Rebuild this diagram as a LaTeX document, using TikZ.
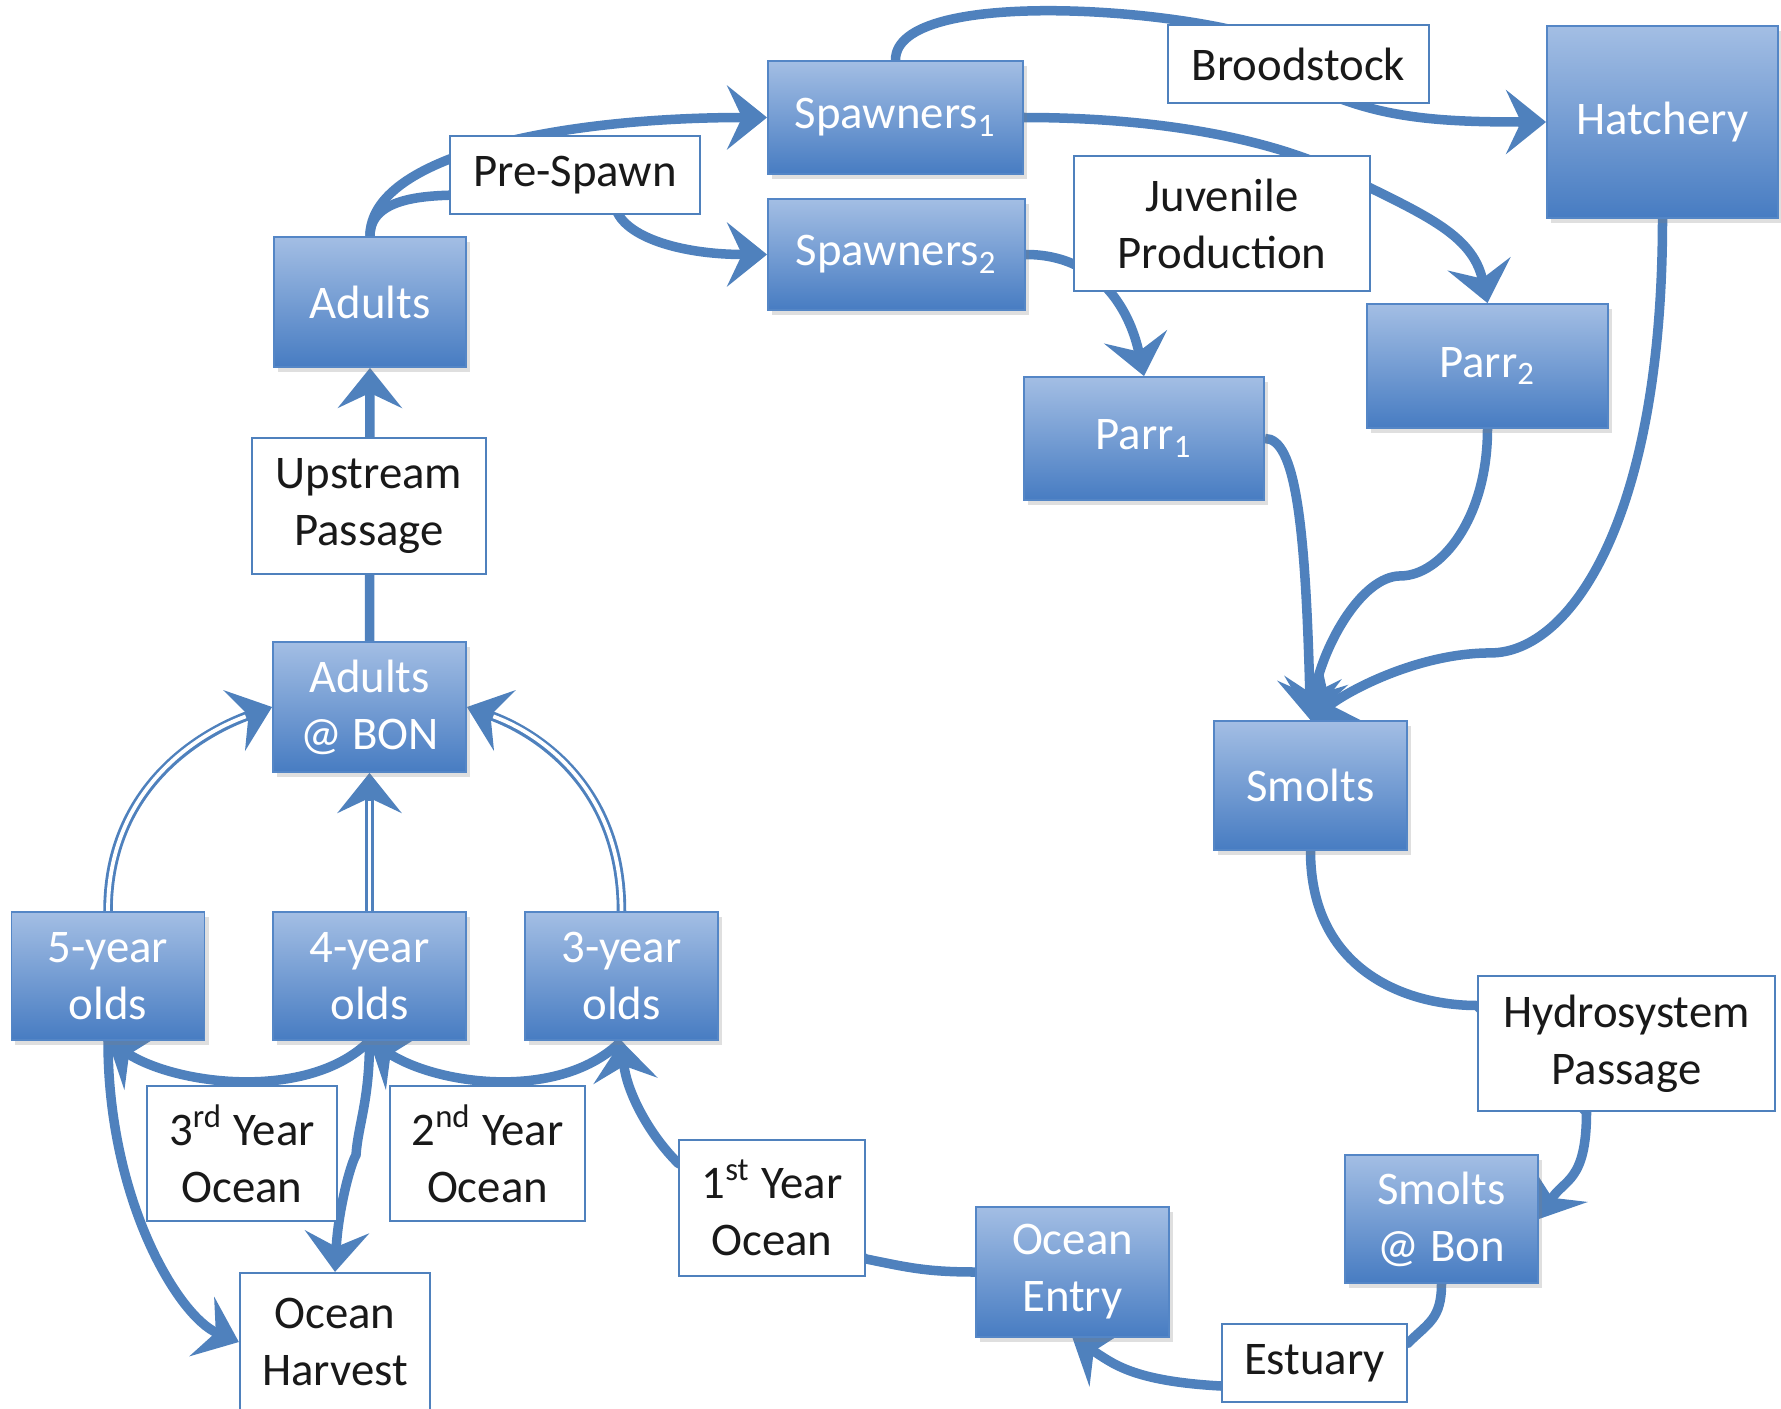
\documentclass[tikz,border=0pt]{standalone}
\usepackage{fontspec}
\setmainfont{Carlito}
\usetikzlibrary{arrows.meta, calc, shadows, backgrounds}

\definecolor{flowblue}{RGB}{79,129,189}
\definecolor{boxtop}{RGB}{163,190,228}
\definecolor{boxbot}{RGB}{71,124,194}
\definecolor{boxline}{RGB}{84,134,198}

\tikzset{
  stock/.style={draw=boxline, line width=0.5pt, top color=boxtop, bottom color=boxbot,
    text=white, align=center, inner sep=0pt,
    drop shadow={shadow xshift=0.04cm, shadow yshift=-0.05cm, opacity=0.25}},
  stage/.style={draw=flowblue, line width=0.6pt, fill=white, text=black!90,
    align=center, inner sep=0pt},
  flow/.style={flowblue, line width=0.095cm,
    -{Stealth[length=0.40cm, width=0.64cm, inset=0.15cm]}},
  twin/.style={flowblue, line width=0.095cm,
    -{Stealth[length=0.40cm, width=0.64cm, inset=0.15cm]},
    postaction={draw=white, line width=0.038cm, shorten >=0.28cm, -}},
}

\begin{document}
\begin{tikzpicture}[x=0.01cm, y=-0.01cm, font=\fontsize{13.3}{16.2}\selectfont]
    \useasboundingbox (0,0) rectangle (1781,1409);

    \node[stock, minimum width=2.55cm, minimum height=1.13cm] (spawn1) at (895.5,117.5) {Spawners\textsubscript{1}};
    \node[stock, minimum width=2.57cm, minimum height=1.11cm] (spawn2) at (896.5,254.5) {Spawners\textsubscript{2}};
    \node[stock, minimum width=1.92cm, minimum height=1.30cm] (adults) at (370,302) {Adults};
    \node[stock, minimum width=2.31cm, minimum height=1.92cm] (hatch) at (1662.5,122) {Hatchery};
    \node[stock, minimum width=2.40cm, minimum height=1.23cm] (parr1) at (1144,438.5) {Parr\textsubscript{1}};
    \node[stock, minimum width=2.41cm, minimum height=1.24cm] (parr2) at (1487.5,366) {Parr\textsubscript{2}};
    \node[stock, minimum width=1.93cm, minimum height=1.29cm] (smolts) at (1310.5,785.5) {Smolts};
    \node[stock, minimum width=1.93cm, minimum height=1.30cm] (abon) at (369.5,707) {Adults\\@ BON};
    \foreach \name/\x/\age in {fiveyr/108/5, fouryr/369.5/4, threeyr/621.5/3}
      \node[stock, minimum width=1.93cm, minimum height=1.28cm] (\name) at (\x,976) {\age-year\\olds};
    \node[stock, minimum width=1.93cm, minimum height=1.30cm] (oentry) at (1072.5,1272) {Ocean\\Entry};
    \node[stock, minimum width=1.93cm, minimum height=1.28cm] (sbon) at (1441.5,1219) {Smolts\\@ Bon};

    \node[stage, minimum width=2.61cm, minimum height=0.78cm] (brood) at (1298.5,64) {Broodstock};
    \node[stage, minimum width=2.50cm, minimum height=0.78cm] (prespawn) at (575,175) {Pre-Spawn};
    \node[stage, minimum width=2.96cm, minimum height=1.35cm] (juv) at (1222,223.5) {Juvenile\\Production};
    \node[stage, minimum width=2.34cm, minimum height=1.36cm] (upstream) at (369,506) {Upstream\\Passage};
    \node[stage, minimum width=2.97cm, minimum height=1.35cm] (hydro) at (1626.5,1043.5) {Hydrosystem\\Passage};
    \node[stage, minimum width=1.90cm, minimum height=1.35cm] (third) at (242,1153.5) {3\textsuperscript{rd} Year\\Ocean};
    \node[stage, minimum width=1.95cm, minimum height=1.35cm] (second) at (487.5,1153.5) {2\textsuperscript{nd} Year\\Ocean};
    \node[stage, minimum width=1.86cm, minimum height=1.36cm] (first) at (772,1208) {1\textsuperscript{st} Year\\Ocean};
    \node[stage, minimum width=1.90cm, minimum height=1.38cm] (harvest) at (335,1342) {Ocean\\Harvest};
    \node[stage, minimum width=1.85cm, minimum height=0.78cm] (estuary) at (1314.5,1363) {Estuary};

    \coordinate (kink) at (356,1155);

    \begin{scope}[on background layer]
      \draw[flow] (adults.north) .. controls +(0,-80) and +(-210,0) .. (spawn1.west);
      \draw[flow] (adults.north) .. controls +(0,-40) and +(-40,0) .. ($(prespawn.west)+(20,20)$)
        -- ($(prespawn.south)+(40,-10)$) .. controls +(5,30) and +(-90,0) .. (spawn2.west);
      \draw[flow] (spawn1.north) .. controls +(0,-75) and +(-80,-35) .. ($(brood.north)+(-20,20)$)
        -- ($(brood.south)+(30,-10)$) .. controls +(60,25) and +(-100,0) .. (hatch.west);
      \draw[flow] (spawn1.east) .. controls +(150,0) and +(-60,-30) .. ($(juv.east)+(-30,-50)$)
        .. controls +(80,40) and +(-15,-70) .. (parr2.north);
      \draw[flow] (spawn2.east) .. controls +(70,0) and +(-15,-70) .. (parr1.north);
      \draw[flow] (parr1.east) .. controls +(30,0) and +(-5,-200) .. (smolts.north);
      \draw[flow] (parr2.south) .. controls +(0,90) and +(40,0) .. ($(parr2.south)+(-87,147)$)
        .. controls +(-40,0) and +(10,-70) .. (smolts.north);
      \draw[flow] (hatch.south) .. controls +(0,300) and +(80,0) .. ($(hatch.south)+(-172,434)$)
        .. controls +(-70,0) and +(40,-31) .. (smolts.north);
      \draw[flow] (smolts.south) .. controls +(0,120) and +(-70,0) .. ($(hydro.west)+(0,-38)$)
        -- ($(hydro.south)+(-40,0)$) .. controls +(0,70) and +(25,-40) .. (sbon.east);
      \draw[flow] (sbon.south) .. controls +(0,35) and +(20,-20) .. ($(estuary.east)+(0,-20)$)
        -- ($(estuary.west)+(0,23)$) .. controls +(-90,-5) and +(40,25) .. (oentry.south);
      \draw[flow] (oentry.west) .. controls +(-50,0) and +(40,8) .. ($(first.east)+(0,51)$)
        -- ($(first.west)+(0,-45)$) .. controls +(-30,-30) and +(5,50) .. (threeyr.south);
      \draw[flow] (threeyr.south) .. controls +(-60,60) and +(70,45) .. (fouryr.south);
      \draw[flow] (fouryr.south) .. controls +(-60,60) and +(70,45) .. (fiveyr.south);
      \draw[flow] (fouryr.south) .. controls +(0,60) and +(2,-30) .. (kink)
        .. controls +(-6,10) and +(3,-60) .. (harvest.north);
      \draw[flow] (fiveyr.south) .. controls +(0,160) and +(-60,-25) .. (harvest.west);
      \draw[flow] (abon.north) -- (adults.south);
      \foreach \age/\side/\dx in {fiveyr/west/-70, threeyr/east/70}
        \draw[twin] (\age.north) .. controls +(0,-125) and +(\dx,25) .. (abon.\side);
      \draw[twin] (fouryr.north) -- (abon.south);
    \end{scope}
  \end{tikzpicture}
\end{document}
